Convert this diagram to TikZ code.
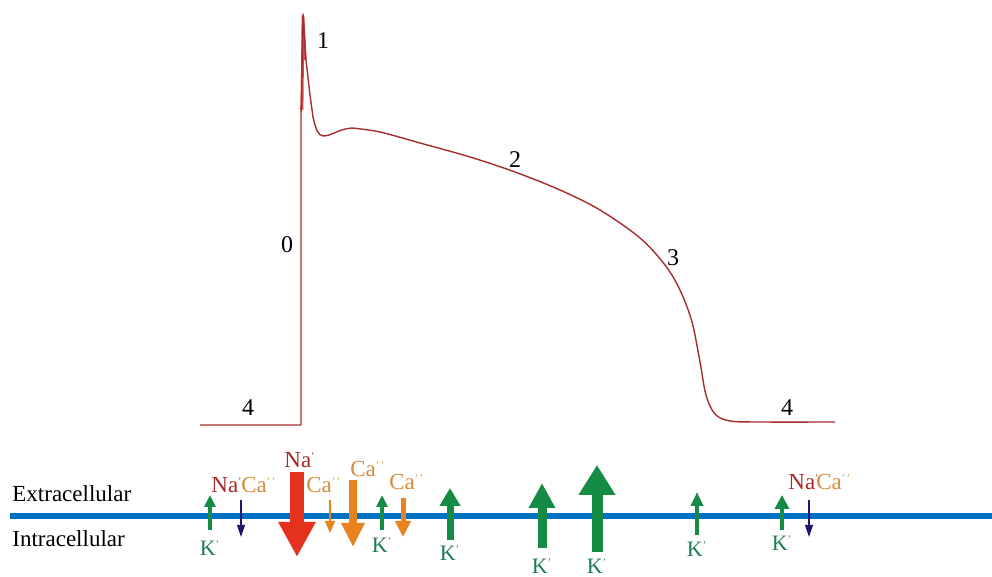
\documentclass[tikz,border=0pt]{standalone}
\usepackage{fontspec}
\setmainfont{Liberation Serif}
\usetikzlibrary{arrows.meta}
\definecolor{cTrace}{RGB}{165,45,45}
\definecolor{cSpike}{RGB}{215,70,70}
\definecolor{cMembrane}{RGB}{0,112,192}
\definecolor{cGreen}{RGB}{20,140,70}
\definecolor{cKtext}{RGB}{30,125,80}
\definecolor{cRed}{RGB}{228,50,30}
\definecolor{cNatext}{RGB}{170,40,40}
\definecolor{cOrange}{RGB}{232,130,30}
\definecolor{cCatext}{RGB}{212,140,60}
\definecolor{cNavy}{RGB}{40,20,110}
\tikzset{
  %% action potential trace
  trace/.style={draw=cTrace, line width=0.7pt, line join=round},
  phaselabel/.style={font=\fontsize{12}{12}\selectfont, inner sep=0pt},
  sidelabel/.style={font=\fontsize{11.5}{11.5}\selectfont, inner sep=0pt, anchor=base west},
  %% ion labels
  ionlabel/.style={font=\fontsize{11.5}{11.5}\selectfont, inner sep=0pt, anchor=base west},
  nalabel/.style={ionlabel, text=cNatext},
  calabel/.style={ionlabel, text=cCatext},
  klabel/.style={font=\fontsize{11}{11}\selectfont, inner sep=0pt, text=cKtext},
  %% ion flux arrows
  flux/.style n args={3}{line width=#1, -{Triangle[width=#2, length=#3]}},
  membrane/.style={draw=cMembrane, line width=3pt},
}
\newcommand{\sing}{\textsuperscript{\tiny'}}
\newcommand{\dbl}{\textsuperscript{\tiny'\,'}}

\begin{document}
\begin{tikzpicture}[x=0.5pt, y=-0.5pt]
\useasboundingbox (0,0) rectangle (992,577);

%% ----- action potential -----
\draw[cSpike, line width=1.4pt] (302,110) -- (303,16) -- (305,60);
\draw[trace] (200,425) -- (301,425) -- (301,115) -- (303,14) -- (306,60)
  -- (310,95) -- (313,117) .. controls (316,130) and (318,135) .. (323,136)
  .. controls (332,136) and (338,129) .. (352,128);
\draw[trace] plot[smooth, tension=0.55] coordinates {
  (352,128) (380,132) (420,143) (470,157) (515,172) (560,190) (600,210)
  (640,238) (665,265) (680,290) (692,322) (700,362) (706,395) (715,414)
  (730,421) (760,422) (835,422)};

%% ----- phase numbers -----
\node[phaselabel] (ph0)  at (287,245) {0};
\node[phaselabel] (ph1)  at (323,41)  {1};
\node[phaselabel] (ph2)  at (515,160) {2};
\node[phaselabel] (ph3)  at (673,258) {3};
\node[phaselabel] (ph4a) at (248,408) {4};
\node[phaselabel] (ph4b) at (787,408) {4};

%% ----- membrane -----
\draw[membrane] (10,516) -- (992,516);
\node[sidelabel] (extra) at (12,502) {Extracellular};
\node[sidelabel] (intra) at (12,546) {Intracellular};

%% ----- K+ outward currents -----
\foreach \x/\yb/\yt/\w/\hw/\hl/\ly in {
    210/530/495/1.6pt/5.5pt/6pt/548,
    382/530/495/1.6pt/5.5pt/6pt/545,
    450/540/488/3.5pt/10pt/9pt/553,
    542/548/483/4.5pt/12.5pt/12.5pt/566,
    597/552/465/5.5pt/17.5pt/15pt/566,
    697/535/492/2pt/6pt/7pt/549,
    782/530/495/2pt/7pt/7pt/543} {
  \draw[flux={\w}{\hw}{\hl}, cGreen] (\x,\yb) -- (\x,\yt);
  \node[klabel] (K\x) at (\x,\ly) {K\sing};
}

%% ----- Na+ / Ca2+ inward currents -----
\draw[flux={0.6pt}{4pt}{6pt}, cNavy]     (241,500) -- (241,537);
\draw[flux={0.6pt}{4pt}{6pt}, cNavy]     (809,500) -- (809,537);
\draw[flux={7pt}{17.5pt}{17.5pt}, cRed]  (297,472) -- (297,557);
\draw[flux={0.8pt}{5pt}{6pt}, cOrange]   (330,500) -- (330,533);
\draw[flux={4pt}{11pt}{12pt}, cOrange]   (353,480) -- (353,547);
\draw[flux={2.5pt}{7.5pt}{8pt}, cOrange] (403,498) -- (403,537);

\node[nalabel] (NaA) at (211,493) {Na\sing};
\node[calabel] (CaA) at (241,493) {Ca\dbl};
\node[nalabel] (NaB) at (284,468) {Na\sing};
\node[calabel] (CaB) at (306,493) {Ca\dbl};
\node[calabel] (CaC) at (350,477) {Ca\dbl};
\node[calabel] (CaD) at (389,490) {Ca\dbl};
\node[nalabel] (NaC) at (788,490) {Na\sing};
\node[calabel] (CaE) at (816,490) {Ca\dbl};

\end{tikzpicture}
\end{document}
